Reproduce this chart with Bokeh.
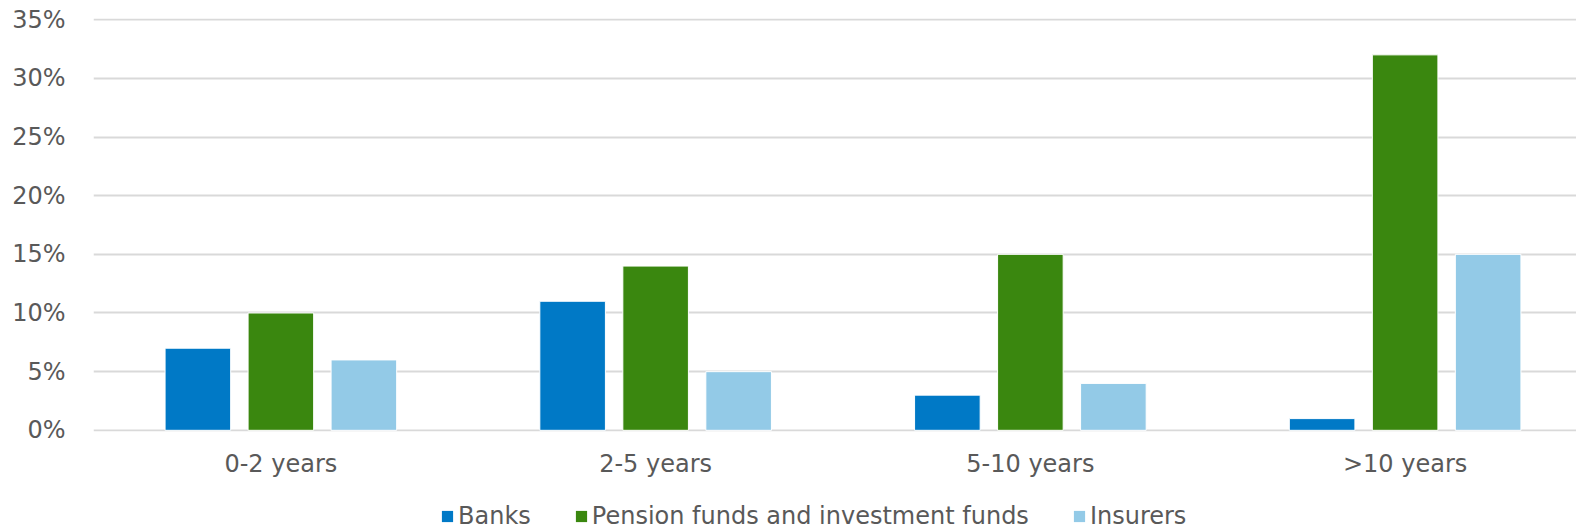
from bokeh.plotting import figure
from bokeh.layouts import column
from bokeh.models import FactorRange, Legend, LegendItem, NumeralTickFormatter, FixedTicker, Range1d
from bokeh.transform import dodge
from bokeh.embed import file_html
from bokeh.resources import INLINE

categories = ["0-2 years", "2-5 years", "5-10 years", ">10 years"]
banks = [0.07, 0.11, 0.03, 0.01]
pension = [0.10, 0.14, 0.15, 0.32]
insurers = [0.06, 0.05, 0.04, 0.15]
series_names = ["Banks", "Pension funds and investment funds", "Insurers"]
colors = ["#0079C6", "#3A870F", "#93CAE7"]
y_ticks = [0, 0.05, 0.10, 0.15, 0.20, 0.25, 0.30, 0.35]

FONT = "DejaVu Sans"
TXT = "#595959"
FS = "24px"

data = dict(cat=categories, banks=banks, pension=pension, insurers=insurers)

p = figure(x_range=FactorRange(*categories, range_padding=0), y_range=Range1d(-0.001, 0.351),
           frame_width=1499, frame_height=413, output_backend="svg", toolbar_location=None,
           min_border_left=93, min_border_right=0, min_border_top=18, min_border_bottom=50)
p.outline_line_color = None
p.background_fill_color = "white"
p.border_fill_color = "white"

offsets = [-0.2215, 0.0, 0.2215]
for key, off, col in zip(["banks", "pension", "insurers"], offsets, colors):
    p.vbar(x=dodge("cat", off, range=p.x_range), top=key, width=0.175, source=data,
           fill_color=col, line_color="white", line_width=1)

p.yaxis.ticker = FixedTicker(ticks=y_ticks)
p.yaxis.formatter = NumeralTickFormatter(format="0%")
for ax in (p.xaxis[0], p.yaxis[0]):
    ax.axis_line_color = None
    ax.major_tick_line_color = None
    ax.minor_tick_line_color = None
    ax.major_label_text_font = FONT
    ax.major_label_text_font_size = FS
    ax.major_label_text_color = TXT
p.yaxis.major_label_standoff = 22
p.xaxis.major_label_standoff = 12
p.xgrid.grid_line_color = None
p.ygrid.grid_line_color = "#D9D9D9"
p.ygrid.grid_line_width = 2

# legend strip below the chart (swatch renderers hold no visible data)
lg = figure(width=1576, height=48, output_backend="svg", toolbar_location=None,
            x_range=Range1d(0, 1), y_range=Range1d(0, 1),
            x_axis_location=None, y_axis_location=None,
            min_border_left=0, min_border_right=0, min_border_top=0, min_border_bottom=0)
lg.outline_line_color = None
lg.xgrid.grid_line_color = None
lg.ygrid.grid_line_color = None
lg.border_fill_color = "white"
swatches = [lg.vbar(x=[float("nan")], top=[float("nan")], width=0.1, fill_color=c, line_color=None)
            for c in colors]

legend = Legend(items=[LegendItem(label=n, renderers=[r]) for n, r in zip(series_names, swatches)],
                orientation="horizontal", location=(347, -1),
                label_text_font=FONT, label_text_font_size=FS, label_text_color=TXT,
                glyph_width=14, glyph_height=14, label_standoff=4, spacing=43,
                border_line_color=None, background_fill_alpha=0, padding=0, margin=0)
lg.add_layout(legend, "center")

layout = column(p, lg, spacing=0)
html = file_html(layout, INLINE)
html = html.replace("<head>", "<head><style>html,body{overflow:hidden}</style>", 1)
open("out.html", "w").write(html)
